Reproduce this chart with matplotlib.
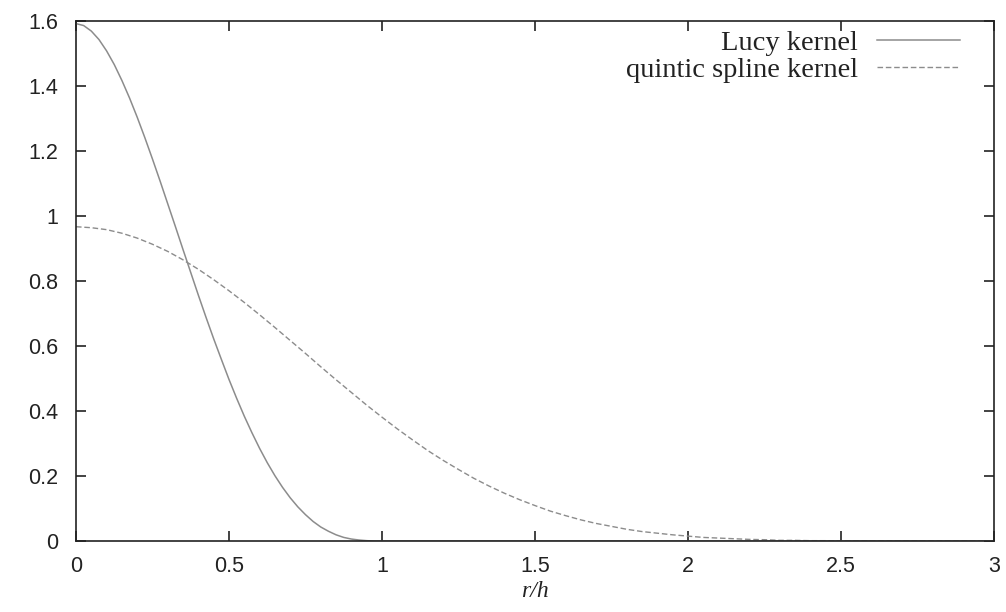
import matplotlib
matplotlib.use("Agg")
import matplotlib.pyplot as plt
from matplotlib.ticker import FormatStrFormatter

# Lucy kernel
lucy_x = [0.000, 0.025, 0.050, 0.075, 0.100, 0.125, 0.150, 0.175, 0.200, 0.225,
          0.250, 0.275, 0.300, 0.325, 0.350, 0.375, 0.400, 0.425, 0.450, 0.475,
          0.500, 0.525, 0.550, 0.575, 0.600, 0.625, 0.650, 0.675, 0.700, 0.725,
          0.750, 0.775, 0.800, 0.825, 0.850, 0.875, 0.900, 0.925, 0.950, 0.975,
          1.000, 2.000, 3.000]
lucy_y = [1.592, 1.586, 1.569, 1.543, 1.508, 1.466, 1.417, 1.363, 1.304, 1.241,
          1.175, 1.107, 1.037, 0.967, 0.896, 0.826, 0.756, 0.688, 0.622, 0.559,
          0.497, 0.439, 0.384, 0.333, 0.285, 0.241, 0.201, 0.165, 0.133, 0.105,
          0.081, 0.060, 0.043, 0.030, 0.019, 0.011, 0.006, 0.003, 0.001, 0.000,
          0.000, 0.000, 0.000]

# quintic spline kernel
quintic_x = [0.00, 0.05, 0.10, 0.15, 0.20, 0.25, 0.30, 0.35, 0.40, 0.45,
             0.50, 0.55, 0.60, 0.65, 0.70, 0.75, 0.80, 0.85, 0.90, 0.95,
             1.00, 1.05, 1.10, 1.15, 1.20, 1.25, 1.30, 1.35, 1.40, 1.45,
             1.50, 1.55, 1.60, 1.65, 1.70, 1.75, 1.80, 1.85, 1.90, 1.95,
             2.00, 2.05, 2.10, 2.15, 2.20, 2.25, 2.30, 2.35, 2.40, 2.45,
             2.50, 2.55, 2.60, 2.80, 3.00]
quintic_y = [0.967, 0.964, 0.958, 0.947, 0.932, 0.913, 0.891, 0.865, 0.836, 0.804,
             0.770, 0.734, 0.696, 0.657, 0.617, 0.577, 0.536, 0.496, 0.457, 0.418,
             0.381, 0.345, 0.311, 0.278, 0.248, 0.220, 0.193, 0.169, 0.147, 0.127,
             0.109, 0.092, 0.078, 0.065, 0.054, 0.045, 0.036, 0.029, 0.024, 0.019,
             0.015, 0.011, 0.009, 0.007, 0.005, 0.004, 0.002, 0.002, 0.001, 0.001,
             0.000, 0.000, 0.000, 0.000, 0.000]

x_ticks = [0, 0.5, 1, 1.5, 2, 2.5, 3]
y_ticks = [0, 0.2, 0.4, 0.6, 0.8, 1.0, 1.2, 1.4, 1.6]

fig = plt.figure(figsize=(10.06, 6.12), dpi=100)
ax = fig.add_axes([76 / 1006, 1 - 541 / 612, (994 - 76) / 1006, (541 - 21) / 612])

line_color = "#8c8c8c"
ax.plot(lucy_x, lucy_y, color=line_color, lw=1.1, label="Lucy kernel")
ax.plot(quintic_x, quintic_y, color=line_color, lw=1.0, dashes=(4, 2),
        label="quintic spline kernel")

ax.set_xlim(0, 3)
ax.set_ylim(0, 1.6)
ax.set_xticks(x_ticks)
ax.set_yticks(y_ticks)
ax.xaxis.set_major_formatter(FormatStrFormatter("%g"))
ax.yaxis.set_major_formatter(FormatStrFormatter("%g"))

for s in ax.spines.values():
    s.set_linewidth(1.2)
    s.set_color("#222222")

ax.tick_params(direction="in", length=7.5, width=1.2, color="#222222",
               top=True, right=True, labelsize=15.5)
ax.tick_params(axis="y", pad=13)
ax.tick_params(axis="x", pad=11)
for lab in ax.get_xticklabels() + ax.get_yticklabels():
    lab.set_family("Liberation Sans")
    lab.set_color("#222222")

ax.set_xlabel("r/h", fontsize=17, family="Liberation Serif", style="italic",
              labelpad=3, color="#222222")

leg = ax.legend(loc="upper right", bbox_to_anchor=(960 / 1006, 1 - 30 / 612),
                bbox_transform=fig.transFigure, frameon=False, markerfirst=False,
                handlelength=2.9, handletextpad=0.7, labelspacing=0.05,
                borderpad=0, borderaxespad=0,
                prop={"family": "Liberation Serif", "size": 20.5})
for t in leg.get_texts():
    t.set_color("#222222")

fig.savefig("out.png", dpi=100)
